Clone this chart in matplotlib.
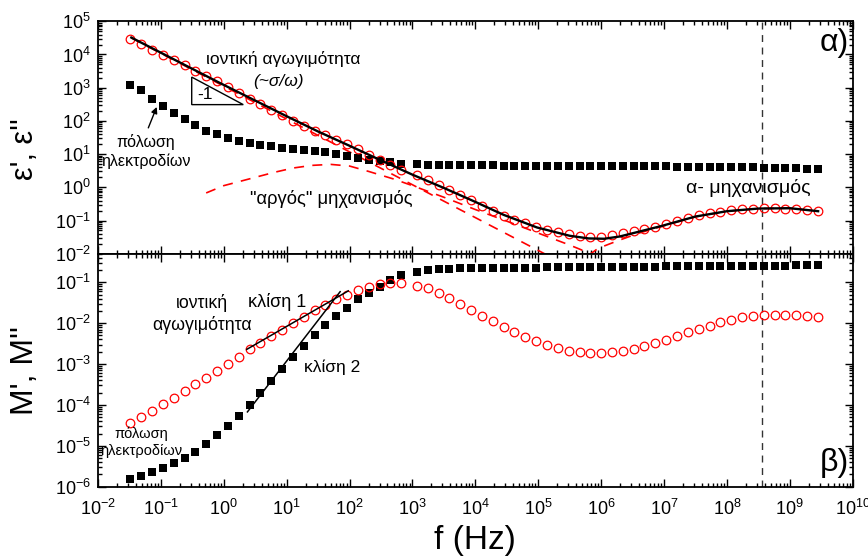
import numpy as np
import matplotlib
matplotlib.use('Agg')
import matplotlib.pyplot as plt
from matplotlib.ticker import LogLocator, NullFormatter
from matplotlib.patches import Polygon

plt.rcParams['font.family'] = ['Liberation Sans', 'DejaVu Sans']
plt.rcParams['mathtext.fontset'] = 'custom'
plt.rcParams['mathtext.rm'] = 'Liberation Sans'
plt.rcParams['mathtext.it'] = 'Liberation Sans:italic'
plt.rcParams['mathtext.bf'] = 'Liberation Sans:bold'

# ---------------- data (log10 values) ----------------
log_f = [-1.486, -1.314, -1.141, -0.969, -0.797, -0.624, -0.452, -0.280, -0.107, 0.065,
         0.237, 0.409, 0.582, 0.754, 0.926, 1.099, 1.271, 1.443, 1.616, 1.788,
         1.960, 2.133, 2.305, 2.477, 2.650, 2.822,
         3.071, 3.243, 3.416, 3.588, 3.760, 3.933, 4.105, 4.277, 4.449, 4.622,
         4.794, 4.966, 5.139, 5.311, 5.483, 5.656, 5.828, 6.000, 6.172, 6.345,
         6.517, 6.689, 6.862, 7.034, 7.206, 7.379, 7.551, 7.723, 7.896, 8.068,
         8.240, 8.413, 8.585, 8.757, 8.930, 9.102, 9.274, 9.446]

log_eps_real = [3.09, 2.92, 2.66, 2.46, 2.25, 2.07, 1.88, 1.71, 1.61, 1.49,
                1.40, 1.34, 1.28, 1.23, 1.19, 1.16, 1.13, 1.09, 1.05, 1.00,
                0.94, 0.88, 0.83, 0.78, 0.75, 0.71,
                0.69, 0.68, 0.67, 0.67, 0.66, 0.66, 0.66, 0.66, 0.65, 0.65,
                0.65, 0.65, 0.65, 0.65, 0.65, 0.64, 0.64, 0.64, 0.64, 0.64,
                0.63, 0.63, 0.63, 0.63, 0.62, 0.62, 0.62, 0.62, 0.61, 0.61,
                0.60, 0.60, 0.59, 0.59, 0.58, 0.57, 0.56, 0.55]

log_eps_imag = [4.46, 4.32, 4.14, 3.99, 3.82, 3.67, 3.51, 3.36, 3.19, 3.01,
                2.84, 2.67, 2.50, 2.33, 2.18, 2.01, 1.86, 1.71, 1.57, 1.43,
                1.29, 1.14, 0.98, 0.82, 0.67, 0.53,
                0.37, 0.22, 0.06, -0.09, -0.24, -0.39, -0.55, -0.70, -0.85, -0.97,
                -1.08, -1.20, -1.30, -1.36, -1.42, -1.47, -1.49, -1.49, -1.44, -1.37,
                -1.31, -1.26, -1.19, -1.11, -1.01, -0.92, -0.84, -0.77, -0.73, -0.69,
                -0.66, -0.64, -0.63, -0.63, -0.64, -0.66, -0.68, -0.72]

log_M_real = [-5.82, -5.73, -5.63, -5.54, -5.41, -5.29, -5.15, -4.96, -4.74, -4.51,
              -4.26, -4.00, -3.70, -3.42, -3.11, -2.83, -2.57, -2.29, -2.05, -1.83,
              -1.62, -1.42, -1.26, -1.12, -0.94, -0.82,
              -0.76, -0.71, -0.68, -0.67, -0.66, -0.66, -0.65, -0.65, -0.64, -0.64,
              -0.64, -0.64, -0.63, -0.63, -0.63, -0.63, -0.63, -0.63, -0.62, -0.62,
              -0.62, -0.62, -0.62, -0.61, -0.61, -0.61, -0.61, -0.61, -0.60, -0.60,
              -0.60, -0.60, -0.59, -0.59, -0.59, -0.58, -0.58, -0.58]

log_M_imag = [-4.44, -4.29, -4.14, -3.98, -3.82, -3.65, -3.49, -3.33, -3.16, -3.00,
              -2.82, -2.64, -2.49, -2.31, -2.17, -2.00, -1.84, -1.69, -1.55, -1.42,
              -1.31, -1.20, -1.12, -1.05, -1.02, -1.02,
              -1.08, -1.15, -1.25, -1.39, -1.53, -1.68, -1.82, -1.95, -2.09, -2.21,
              -2.33, -2.43, -2.53, -2.61, -2.67, -2.71, -2.74, -2.74, -2.71, -2.67,
              -2.62, -2.56, -2.49, -2.40, -2.31, -2.22, -2.14, -2.06, -1.98, -1.92,
              -1.86, -1.83, -1.81, -1.79, -1.79, -1.79, -1.82, -1.84]

# total fit of eps'' (black line)
fit_log_f = [-1.47, -0.06, 1.0, 1.5, 2.0, 2.5, 3.0, 3.5, 4.0, 4.45, 4.98, 5.5, 5.8,
             6.05, 6.3, 6.95, 7.5, 8.0, 8.5, 9.0, 9.45]
fit_log_eps = [4.51, 3.14, 2.14, 1.68, 1.25, 0.81, 0.38, -0.02, -0.44, -0.83, -1.21,
               -1.46, -1.54, -1.55, -1.48, -1.17, -0.88, -0.72, -0.64, -0.63, -0.72]

# components (red dashed)
cond_log_f = [-1.47, 5.25]
cond_log_eps = [4.50, -2.15]
slow_log_f = [-0.28, 0.0, 0.4, 0.8, 1.1, 1.4, 1.7, 2.0, 2.3, 2.7, 3.0, 3.5, 4.0, 4.5,
              5.0, 5.5, 5.9]
slow_log_eps = [-0.17, 0.05, 0.25, 0.45, 0.58, 0.66, 0.69, 0.64, 0.48, 0.25, 0.05,
                -0.30, -0.67, -1.02, -1.38, -1.74, -2.05]
alpha_log_f = [5.80, 5.95, 6.25, 6.6, 7.0, 7.5, 8.0, 8.5, 9.0, 9.45]
alpha_log_eps = [-2.05, -1.84, -1.62, -1.38, -1.16, -0.89, -0.72, -0.64, -0.63, -0.72]

# slope lines in modulus panel
slope1_log_f = [0.366, 1.98]
slope1_log_M = [-2.64, -1.21]
slope2_log_f = [0.376, 1.85]
slope2_log_M = [-4.17, -1.23]

f_mark = 3.67e8   # vertical dashed line

# ---------------------------------------------------------------------------
P = lambda a: 10 ** np.asarray(a, dtype=float)
f = P(log_f)

fig = plt.figure(figsize=(8.68, 5.56), dpi=100)
ax1 = fig.add_axes([0.1129, 0.5437, 0.8695, 0.418])
ax2 = fig.add_axes([0.1129, 0.1246, 0.8695, 0.4191])

sq = dict(ls='none', marker='s', ms=5.6, mfc='black', mec='black', mew=0)
ci = dict(ls='none', marker='o', ms=6.2, mfc='none', mec='#ff0000', mew=0.9)
dash_red = dict(color='#ff0000', lw=1.2, dashes=(6, 5))

for ax in (ax1, ax2):
    ax.set_xscale('log')
    ax.set_yscale('log')
    ax.set_xlim(1e-2, 1e10)
    ax.xaxis.set_major_locator(LogLocator(base=10, numticks=30))
    ax.xaxis.set_minor_locator(LogLocator(base=10, subs=np.arange(2, 10), numticks=30))
    ax.xaxis.set_minor_formatter(NullFormatter())
    ax.yaxis.set_major_locator(LogLocator(base=10, numticks=30))
    ax.yaxis.set_minor_locator(LogLocator(base=10, subs=np.arange(2, 10), numticks=30))
    ax.yaxis.set_minor_formatter(NullFormatter())
    ax.tick_params(which='both', direction='in', top=True, right=True,
                   labelsize=13, width=1.0)
    ax.tick_params(axis='y', pad=5)
    ax.tick_params(axis='x', pad=9)
    ax.tick_params(which='major', length=6)
    ax.tick_params(which='minor', length=3)
    for s in ax.spines.values():
        s.set_linewidth(1.3)
    ax.axvline(f_mark, color='#333333', lw=1.0, dashes=(5, 4), zorder=1)

# ---- top panel ----
ax1.set_ylim(1e-2, 1e5)
ax1.tick_params(labelbottom=False)
ax1.plot(P(cond_log_f), P(cond_log_eps), **dash_red, zorder=2)
ax1.plot(P(slow_log_f), P(slow_log_eps), **dash_red, zorder=2)
ax1.plot(P(alpha_log_f), P(alpha_log_eps), **dash_red, zorder=2)
ax1.plot(f, P(log_eps_real), **sq, zorder=3)
ax1.plot(f, P(log_eps_imag), **ci, zorder=3)
ax1.plot(P(fit_log_f), P(fit_log_eps), color='black', lw=1.7, zorder=4)
ax1.set_ylabel("ε', ε''", fontsize=22)
ax1.yaxis.set_label_coords(-0.077, 0.45)

ax1.text(10 ** -0.282, 10 ** 3.853, 'ιοντική αγωγιμότητα', ha='left', va='center',
         fontsize=12.5)
ax1.text(10 ** 0.864, 10 ** 3.177, '(~σ/ω)', ha='center', va='center',
         fontsize=12.5, style='italic')
ax1.add_patch(Polygon([[10 ** -0.51, 10 ** 3.32], [10 ** -0.51, 10 ** 2.49],
                       [10 ** 0.31, 10 ** 2.49]], closed=True, fill=False,
                      lw=1.0, ec='black', zorder=3))
ax1.text(10 ** -0.30, 10 ** 2.80, '-1', ha='center', va='center', fontsize=12.5)
ax1.annotate('', xy=(10 ** -1.066, 10 ** 2.42), xytext=(10 ** -1.2, 10 ** 1.79),
             arrowprops=dict(arrowstyle='-|>', color='black', lw=1.0,
                             mutation_scale=9, shrinkA=0, shrinkB=0))
ax1.text(10 ** -1.236, 10 ** 1.075, 'πόλωση\nηλεκτροδίων', ha='center', va='center',
         fontsize=11.5, linespacing=1.3)
ax1.text(10 ** 1.707, 10 ** -0.366, '"αργός" μηχανισμός', ha='center', va='center',
         fontsize=13.2)
ax1.text(10 ** 8.334, 10 ** -0.015, 'α- μηχανισμός', ha='center', va='center',
         fontsize=14)
ax1.text(0.995, 0.905, 'α)', transform=ax1.transAxes, ha='right', va='center',
         fontsize=23)

# ---- bottom panel ----
ax2.set_ylim(1e-6, 0.5)
ax2.plot(f, P(log_M_real), **sq, zorder=3)
ax2.plot(f, P(log_M_imag), **ci, zorder=3)
ax2.plot(P(slope1_log_f), P(slope1_log_M), color='black', lw=1.1, zorder=4)
ax2.plot(P(slope2_log_f), P(slope2_log_M), color='black', lw=1.1, zorder=4)
ax2.set_ylabel("M', M''", fontsize=23)
ax2.yaxis.set_label_coords(-0.077, 0.5)
ax2.set_xlabel('f (Hz)', fontsize=24, labelpad=4)

ax2.text(10 ** -0.345, 10 ** -1.776, 'ιοντική\nαγωγιμότητα', ha='center', va='center',
         fontsize=12.8, linespacing=1.3)
ax2.text(10 ** 0.856, 10 ** -1.475, 'κλίση 1', ha='center', va='center', fontsize=13)
ax2.text(10 ** 1.718, 10 ** -3.066, 'κλίση 2', ha='center', va='center', fontsize=12.5)
ax2.text(10 ** -1.308, 10 ** -4.92, 'πόλωση\nηλεκτροδίων', ha='center', va='center',
         fontsize=10.5, linespacing=1.25)
ax2.text(0.995, 0.10, 'β)', transform=ax2.transAxes, ha='right', va='center',
         fontsize=23)

fig.savefig('out.png', dpi=100)
